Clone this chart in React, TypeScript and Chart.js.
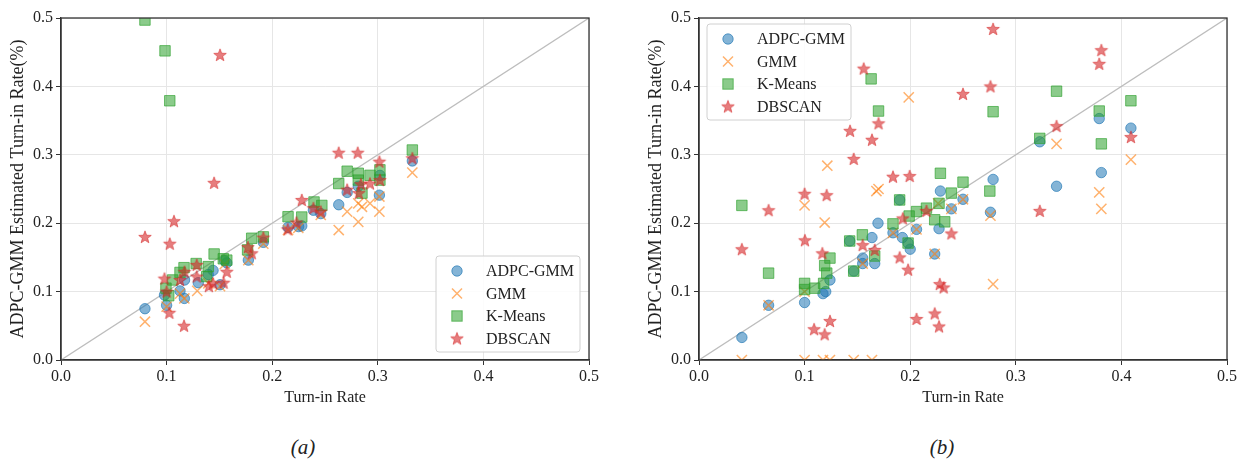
import React, { useEffect, useRef } from "react";
import { Chart, registerables } from "chart.js";

Chart.register(...registerables);

type P = [number, number];

const SERIES_NAMES = ["ADPC-GMM", "GMM", "K-Means", "DBSCAN"];
const AXIS_MIN = 0;
const AXIS_MAX = 0.5;
const AXIS_STEP = 0.1;
const X_TITLE = "Turn-in Rate";
const Y_TITLE = "ADPC-GMM Estimated Turn-in Rate(%)";
const CAPTIONS = ["(a)", "(b)"];
const DIAGONAL: P[] = [[0, 0], [0.5, 0.5]];

// ---- panel (a) ----
const aAdpc: P[] = [
  [0.0795, 0.075], [0.098, 0.095], [0.1, 0.08], [0.1127, 0.101], [0.1168, 0.09], [0.117, 0.117],
  [0.13, 0.113], [0.144, 0.131], [0.1506, 0.11], [0.155, 0.145], [0.1774, 0.146], [0.1916, 0.172],
  [0.215, 0.194], [0.225, 0.195], [0.228, 0.196], [0.239, 0.219], [0.246, 0.214], [0.263, 0.227],
  [0.271, 0.245], [0.2815, 0.254], [0.302, 0.27], [0.3015, 0.241], [0.3327, 0.291], [0.1395, 0.125],
  [0.157, 0.142],
];
const aGmm: P[] = [
  [0.0795, 0.056], [0.1, 0.078], [0.1127, 0.097], [0.1168, 0.09], [0.129, 0.101], [0.1395, 0.112],
  [0.1506, 0.108], [0.155, 0.14], [0.1774, 0.146], [0.1916, 0.17], [0.215, 0.19], [0.2247, 0.193],
  [0.246, 0.212], [0.263, 0.19], [0.271, 0.217], [0.2815, 0.202], [0.2815, 0.229], [0.285, 0.224],
  [0.2926, 0.229], [0.3015, 0.217], [0.3015, 0.239], [0.3327, 0.274],
];
const aKmeans: P[] = [
  [0.0795, 0.497], [0.0985, 0.452], [0.103, 0.379], [0.0994, 0.105], [0.102, 0.094], [0.1057, 0.117],
  [0.1127, 0.128], [0.1165, 0.135], [0.128, 0.141], [0.1395, 0.1365], [0.138, 0.122], [0.145, 0.155],
  [0.1537, 0.148], [0.157, 0.146], [0.1767, 0.161], [0.1806, 0.178], [0.1916, 0.18], [0.215, 0.2095],
  [0.228, 0.209], [0.2396, 0.231], [0.247, 0.226], [0.263, 0.258], [0.271, 0.276], [0.2815, 0.273],
  [0.2815, 0.263], [0.285, 0.244], [0.2926, 0.27], [0.302, 0.278], [0.302, 0.263], [0.3327, 0.307],
];
const aDbscan: P[] = [
  [0.1506, 0.446], [0.145, 0.259], [0.107, 0.203], [0.0795, 0.18], [0.103, 0.17], [0.1165, 0.05],
  [0.1026, 0.069], [0.098, 0.119], [0.1, 0.1], [0.1127, 0.117], [0.117, 0.129], [0.1285, 0.139],
  [0.1285, 0.122], [0.14, 0.108], [0.144, 0.112], [0.157, 0.129], [0.154, 0.113], [0.177, 0.165],
  [0.1806, 0.156], [0.1916, 0.179], [0.2147, 0.191], [0.223, 0.201], [0.228, 0.234], [0.239, 0.222],
  [0.246, 0.217], [0.263, 0.303], [0.281, 0.303], [0.271, 0.249], [0.284, 0.257], [0.282, 0.244],
  [0.2926, 0.258], [0.3015, 0.29], [0.302, 0.263], [0.3327, 0.295],
];

// ---- panel (b) ----
const bAdpc: P[] = [
  [0.0406, 0.033], [0.0659, 0.08], [0.1, 0.084], [0.1174, 0.097], [0.12, 0.1], [0.124, 0.117],
  [0.1427, 0.174], [0.1465, 0.13], [0.155, 0.141], [0.1664, 0.141], [0.155, 0.149], [0.1638, 0.179],
  [0.1695, 0.2], [0.1837, 0.186], [0.19, 0.234], [0.1926, 0.179], [0.198, 0.171], [0.2, 0.162],
  [0.206, 0.191], [0.2232, 0.155], [0.2273, 0.192], [0.2286, 0.247], [0.239, 0.221], [0.25, 0.235],
  [0.276, 0.216], [0.2785, 0.264], [0.3227, 0.319], [0.3386, 0.254], [0.379, 0.353], [0.381, 0.274],
  [0.409, 0.339],
];
const bGmm: P[] = [
  [0.0406, 0], [0.1, 0], [0.1174, 0], [0.124, 0], [0.1465, 0], [0.1638, 0], [0.0659, 0.08],
  [0.1, 0.226], [0.119, 0.201], [0.1215, 0.284], [0.168, 0.247], [0.17, 0.25], [0.1986, 0.384],
  [0.2264, 0.229], [0.2232, 0.155], [0.276, 0.211], [0.2785, 0.111], [0.3386, 0.316], [0.379, 0.245],
  [0.381, 0.221], [0.409, 0.293], [0.1837, 0.186], [0.206, 0.191], [0.239, 0.221], [0.25, 0.235],
  [0.155, 0.141], [0.1, 0.1],
];
const bKmeans: P[] = [
  [0.0406, 0.226], [0.0659, 0.127], [0.1, 0.112], [0.1, 0.103], [0.1095, 0.105], [0.118, 0.112],
  [0.121, 0.127], [0.119, 0.138], [0.124, 0.149], [0.1427, 0.174], [0.1465, 0.13], [0.1547, 0.183],
  [0.1664, 0.152], [0.163, 0.411], [0.17, 0.364], [0.1837, 0.199], [0.19, 0.234], [0.198, 0.171],
  [0.199, 0.2105], [0.206, 0.217], [0.2154, 0.222], [0.2232, 0.205], [0.2273, 0.229], [0.2327, 0.202],
  [0.2286, 0.273], [0.239, 0.244], [0.25, 0.26], [0.2754, 0.247], [0.2785, 0.363], [0.3227, 0.324],
  [0.3386, 0.393], [0.379, 0.364], [0.381, 0.316], [0.409, 0.379],
];
const bDbscan: P[] = [
  [0.0406, 0.162], [0.0659, 0.219], [0.1, 0.243], [0.1003, 0.175], [0.109, 0.045], [0.119, 0.0375],
  [0.124, 0.057], [0.1168, 0.156], [0.1209, 0.241], [0.143, 0.335], [0.1465, 0.294], [0.155, 0.168],
  [0.156, 0.426], [0.1638, 0.322], [0.1664, 0.161], [0.17, 0.346], [0.1837, 0.268], [0.19, 0.15],
  [0.193, 0.207], [0.198, 0.132], [0.1995, 0.269], [0.206, 0.06], [0.2154, 0.218], [0.2232, 0.068],
  [0.2273, 0.049], [0.228, 0.111], [0.2317, 0.106], [0.239, 0.185], [0.25, 0.389], [0.276, 0.4],
  [0.2785, 0.484], [0.3227, 0.218], [0.3386, 0.342], [0.379, 0.433], [0.381, 0.453], [0.409, 0.326],
];

const FONT = "'Liberation Serif', 'Times New Roman', serif";
const TEXT = "#222";
const BLUE_F = "rgba(31,119,180,0.55)";
const BLUE_E = "rgba(31,119,180,0.65)";
const ORANGE = "rgba(255,127,14,0.6)";
const GREEN_F = "rgba(44,160,44,0.55)";
const GREEN_E = "rgba(44,160,44,0.65)";
const RED_F = "rgba(214,39,40,0.6)";
const RED_E = "rgba(214,39,40,0.7)";

function makeStar(r: number): HTMLCanvasElement {
  const c = document.createElement("canvas");
  const s = Math.ceil(r * 2 + 4);
  c.width = s;
  c.height = s;
  const ctx = c.getContext("2d")!;
  ctx.beginPath();
  for (let i = 0; i < 10; i++) {
    const rad = i % 2 === 0 ? r : r * 0.42;
    const a = -Math.PI / 2 + (i * Math.PI) / 5;
    ctx.lineTo(s / 2 + rad * Math.cos(a), s / 2 + 0.5 + rad * Math.sin(a));
  }
  ctx.closePath();
  ctx.fillStyle = RED_F;
  ctx.fill();
  ctx.strokeStyle = RED_E;
  ctx.lineWidth = 0.8;
  ctx.stroke();
  return c;
}

type LegendCfg = { corner: "br" | "tl" };

function drawLegend(chart: any, cfg: LegendCfg, star: HTMLCanvasElement) {
  const ctx: CanvasRenderingContext2D = chart.ctx;
  const ca = chart.chartArea;
  const w = 144;
  const h = 96;
  let bx: number, by: number;
  if (cfg.corner === "br") {
    bx = ca.right - 9 - w;
    by = ca.bottom - 8 - h;
  } else {
    bx = ca.left + 8;
    by = ca.top + 6;
  }
  ctx.save();
  ctx.beginPath();
  const r = 3;
  ctx.moveTo(bx + r, by);
  ctx.arcTo(bx + w, by, bx + w, by + h, r);
  ctx.arcTo(bx + w, by + h, bx, by + h, r);
  ctx.arcTo(bx, by + h, bx, by, r);
  ctx.arcTo(bx, by, bx + w, by, r);
  ctx.closePath();
  ctx.fillStyle = "rgba(255,255,255,0.85)";
  ctx.fill();
  ctx.strokeStyle = "#d0d0d0";
  ctx.lineWidth = 1;
  ctx.stroke();
  ctx.font = `16px ${FONT}`;
  ctx.textBaseline = "middle";
  ctx.textAlign = "left";
  SERIES_NAMES.forEach((name, i) => {
    const cy = by + 15 + i * 22.5;
    const mx = bx + 21;
    if (i === 0) {
      ctx.beginPath();
      ctx.arc(mx, cy, 5.2, 0, Math.PI * 2);
      ctx.fillStyle = BLUE_F;
      ctx.fill();
      ctx.strokeStyle = BLUE_E;
      ctx.lineWidth = 1;
      ctx.stroke();
    } else if (i === 1) {
      ctx.beginPath();
      ctx.moveTo(mx - 5, cy - 5);
      ctx.lineTo(mx + 5, cy + 5);
      ctx.moveTo(mx - 5, cy + 5);
      ctx.lineTo(mx + 5, cy - 5);
      ctx.strokeStyle = ORANGE;
      ctx.lineWidth = 1.5;
      ctx.stroke();
    } else if (i === 2) {
      ctx.fillStyle = GREEN_F;
      ctx.fillRect(mx - 5.2, cy - 5.2, 10.4, 10.4);
      ctx.strokeStyle = GREEN_E;
      ctx.lineWidth = 1;
      ctx.strokeRect(mx - 5.2, cy - 5.2, 10.4, 10.4);
    } else {
      ctx.drawImage(star, mx - star.width / 2, cy - star.height / 2);
    }
    ctx.fillStyle = TEXT;
    ctx.fillText(name, bx + 50, cy + 1);
  });
  ctx.restore();
}

const toXY = (arr: P[]) => arr.map(([x, y]) => ({ x, y }));

function Panel(props: {
  left: number;
  padLeft: number;
  padRight: number;
  series: P[][];
  legend: LegendCfg;
}) {
  const ref = useRef<HTMLCanvasElement | null>(null);
  useEffect(() => {
    const star = makeStar(6.6);
    const framePlugin = {
      id: "frame",
      afterDatasetsDraw(chart: any) {
        const { ctx, chartArea: ca } = chart;
        ctx.save();
        ctx.strokeStyle = "#333";
        ctx.lineWidth = 1.3;
        ctx.strokeRect(ca.left, ca.top, ca.right - ca.left, ca.bottom - ca.top);
        ctx.restore();
        drawLegend(chart, props.legend, star);
      },
    };
    const tickFmt = (v: any) => Number(v).toFixed(1);
    const chart = new Chart(ref.current!, {
      type: "scatter",
      data: {
        datasets: [
          {
            label: "diag",
            type: "line",
            data: toXY(DIAGONAL),
            borderColor: "#bdbdbd",
            borderWidth: 1.3,
            pointRadius: 0,
            order: 10,
            clip: 0,
          } as any,
          {
            label: SERIES_NAMES[0],
            data: toXY(props.series[0]),
            pointStyle: "circle",
            pointRadius: 5.2,
            backgroundColor: BLUE_F,
            borderColor: BLUE_E,
            borderWidth: 1,
            order: 4,
            clip: 0,
          },
          {
            label: SERIES_NAMES[1],
            data: toXY(props.series[1]),
            pointStyle: "crossRot",
            pointRadius: 7.2,
            backgroundColor: ORANGE,
            borderColor: ORANGE,
            borderWidth: 1.5,
            order: 3,
            clip: 0,
          },
          {
            label: SERIES_NAMES[2],
            data: toXY(props.series[2]),
            pointStyle: "rect",
            pointRadius: 7.4,
            backgroundColor: GREEN_F,
            borderColor: GREEN_E,
            borderWidth: 1,
            order: 2,
            clip: 0,
          },
          {
            label: SERIES_NAMES[3],
            data: toXY(props.series[3]),
            pointStyle: star as any,
            pointRadius: 6,
            order: 1,
            clip: 0,
          },
        ],
      },
      options: {
        animation: false,
        responsive: false,
        events: [],
        layout: { padding: { left: props.padLeft, right: props.padRight, top: 18, bottom: 0 } },
        plugins: { legend: { display: false }, tooltip: { enabled: false } },
        scales: {
          x: {
            type: "linear",
            min: AXIS_MIN,
            max: AXIS_MAX,
            afterFit: (s: any) => {
              s.height = 60;
            },
            ticks: {
              stepSize: AXIS_STEP,
              callback: tickFmt,
              color: TEXT,
              font: { family: FONT, size: 16 },
              padding: 2,
              maxRotation: 0,
            },
            grid: { color: "#e6e6e6", tickColor: "#333", tickLength: 5, lineWidth: 1 },
            border: { color: "#333", width: 1.3 },
            title: {
              display: true,
              text: X_TITLE,
              color: TEXT,
              font: { family: FONT, size: 16 },
              padding: { top: 0, bottom: 13 },
            },
          },
          y: {
            type: "linear",
            min: AXIS_MIN,
            max: AXIS_MAX,
            afterFit: (s: any) => {
              s.width = 61;
            },
            ticks: {
              stepSize: AXIS_STEP,
              callback: tickFmt,
              color: TEXT,
              font: { family: FONT, size: 16 },
              padding: 3,
            },
            grid: { color: "#e6e6e6", tickColor: "#333", tickLength: 5, lineWidth: 1 },
            border: { color: "#333", width: 1.3 },
            title: {
              display: true,
              text: Y_TITLE,
              color: TEXT,
              font: { family: FONT, size: 18 },
              padding: { top: 7, bottom: 0 },
            },
          },
        },
      },
      plugins: [framePlugin],
    });
    return () => chart.destroy();
  }, []);
  return (
    <canvas
      ref={ref}
      width={620}
      height={420}
      style={{ position: "absolute", left: props.left, top: 0, width: 620, height: 420 }}
    />
  );
}

export default function App() {
  return (
    <div
      style={{
        position: "fixed",
        left: 0,
        top: 0,
        width: 1240,
        height: 460,
        background: "#fff",
        overflow: "hidden",
      }}
    >
      <Panel left={0} padLeft={0} padRight={31} series={[aAdpc, aGmm, aKmeans, aDbscan]} legend={{ corner: "br" }} />
      <Panel left={620} padLeft={18} padRight={13} series={[bAdpc, bGmm, bKmeans, bDbscan]} legend={{ corner: "tl" }} />
      <div
        style={{
          position: "absolute",
          left: 253,
          top: 435,
          width: 100,
          textAlign: "center",
          fontFamily: FONT,
          fontStyle: "italic",
          fontSize: 21,
          lineHeight: "24px",
          color: TEXT,
        }}
      >
        {CAPTIONS[0]}
      </div>
      <div
        style={{
          position: "absolute",
          left: 892,
          top: 435,
          width: 100,
          textAlign: "center",
          fontFamily: FONT,
          fontStyle: "italic",
          fontSize: 21,
          lineHeight: "24px",
          color: TEXT,
        }}
      >
        {CAPTIONS[1]}
      </div>
    </div>
  );
}
